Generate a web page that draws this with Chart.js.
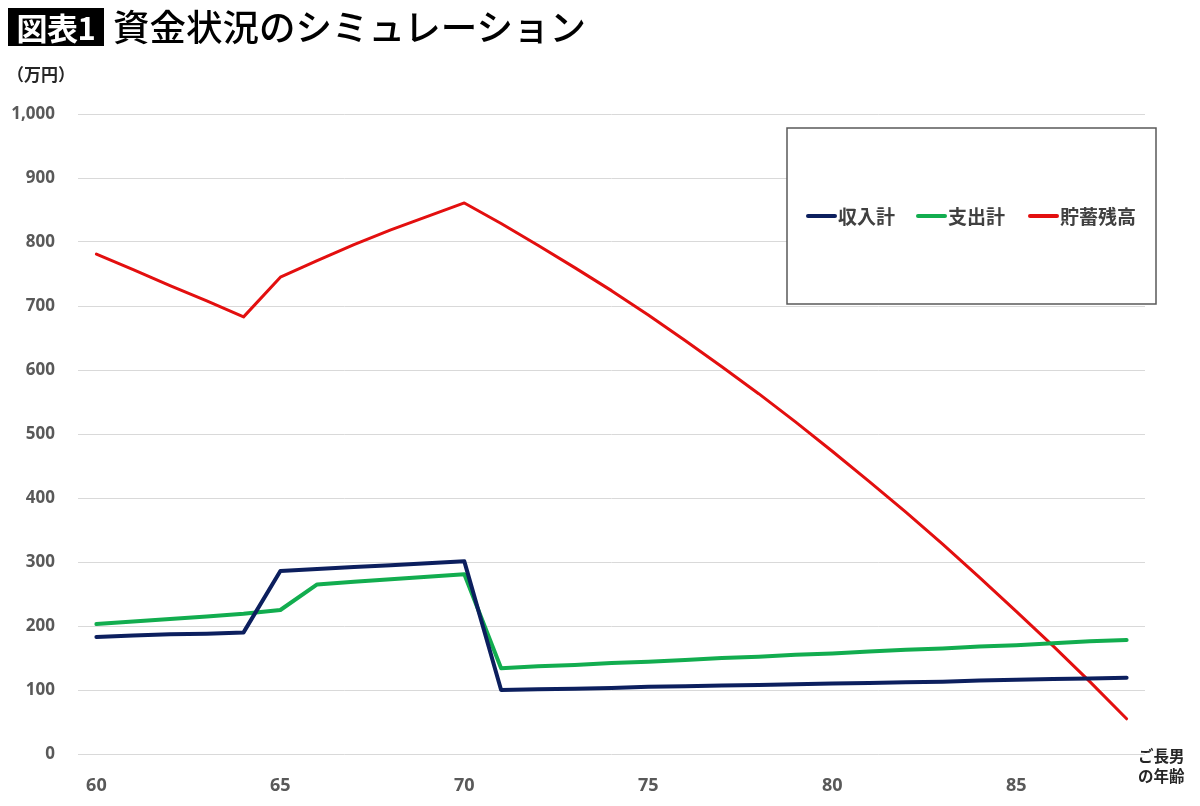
<!DOCTYPE html>
<html><head><meta charset="utf-8">
<script src="https://cdn.jsdelivr.net/npm/chart.js@4/dist/chart.umd.min.js"></script>
<style>
html,body{margin:0;padding:0;background:#fff;}
#wrap{position:relative;width:1200px;height:806px;overflow:hidden;}
#c{position:absolute;left:0;top:0;}
.t{position:absolute;font-family:"Noto Sans CJK JP",sans-serif;white-space:nowrap;}
#badge{left:8px;top:8px;width:96px;height:38px;background:#000;color:#fff;font-weight:700;font-size:31px;line-height:38px;text-align:center;letter-spacing:-0.5px;}
#title{left:113px;top:2px;font-size:36.5px;font-weight:500;color:#000;line-height:48px;}
#unit{left:7px;top:61px;font-size:17px;font-weight:700;color:#262626;line-height:26px;}
#xl{left:1138px;top:745px;font-size:15.5px;font-weight:700;color:#262626;line-height:20px;}
</style></head>
<body><div id="wrap">
<canvas id="c" width="1200" height="806"></canvas>
<div class="t" id="badge">図表1</div>
<div class="t" id="title">資金状況のシミュレーション</div>
<div class="t" id="unit">（万円）</div>
<div class="t" id="xl">ご長男<br>の年齢</div>
</div>
<script>
const ages = [60,61,62,63,64,65,66,67,68,69,70,71,72,73,74,75,76,77,78,79,80,81,82,83,84,85,86,87,88];
const income = [183,185,187,188,190,286,289,292,295,298,301,100,101,102,103,105,106,107,108,109,110,111,112,113,115,116,117,118,119];
const expense = [203,207,211,215,219,225,265,269,273,277,281,134,137,139,142,144,147,150,152,155,157,160,163,165,168,170,173,176,178];
const savings = [781,757,732,708,683,745,771,796,819,840,861,829,795,760,724,686,646,605,563,519,473,426,378,328,276,223,169,113,55];
const seriesNames = ['収入計','支出計','貯蓄残高'];
const xTickStep = 5;

const legendBox = {
  id:'legendBox',
  afterDraw(chart){
    const ctx = chart.ctx;
    const x0=787, y0=128, w=369, h=176;
    ctx.save();
    ctx.fillStyle='#fff';
    ctx.fillRect(x0,y0,w,h);
    ctx.strokeStyle='#595959';
    ctx.lineWidth=1.5;
    ctx.strokeRect(x0,y0,w,h);
    const cy = 216;
    const xs=[808,918,1030];
    ctx.font='700 19px "Noto Sans CJK JP"';
    ctx.textBaseline='middle';
    chart.data.datasets.forEach((ds,i)=>{
      ctx.strokeStyle=ds.borderColor;
      ctx.lineWidth=4;
      ctx.lineCap='round';
      ctx.beginPath();ctx.moveTo(xs[i],cy);ctx.lineTo(xs[i]+27,cy);ctx.stroke();
      ctx.fillStyle='#404040';
      ctx.fillText(ds.label,xs[i]+30,cy+1);
    });
    ctx.restore();
  }
};

new Chart(document.getElementById('c'),{
  type:'line',
  data:{
    labels:ages,
    datasets:[
      {label:seriesNames[0],data:income,borderColor:'#0c1f5e',borderWidth:4},
      {label:seriesNames[1],data:expense,borderColor:'#12ad4f',borderWidth:4},
      {label:seriesNames[2],data:savings,borderColor:'#e30f0f',borderWidth:3}
    ]
  },
  options:{
    responsive:false,
    animation:false,
    devicePixelRatio:1,
    elements:{point:{radius:0},line:{tension:0,borderJoinStyle:'round',borderCapStyle:'round'}},
    layout:{padding:{left:0,right:55,top:114,bottom:0}},
    plugins:{legend:{display:false},tooltip:{enabled:false}},
    scales:{
      x:{
        type:'category',
        offset:true,
        grid:{display:false},
        border:{display:false},
        ticks:{
          autoSkip:false,maxRotation:0,padding:13,color:'#595959',
          font:{family:'"Open Sans"',size:18,weight:'700'},
          callback:function(v){const a=ages[v];return (a-ages[0])%xTickStep===0?String(a):'';}
        },
        afterFit(s){s.height=52;}
      },
      y:{
        min:0,max:1000,
        grid:{color:'#d9d9d9',lineWidth:1,drawTicks:false},
        border:{display:false},
        ticks:{
          stepSize:100,padding:23,color:'#595959',
          font:{family:'"Open Sans"',size:17,weight:'700'},
          callback:v=>v.toLocaleString('en-US')
        },
        afterFit(s){s.width=78;}
      }
    }
  },
  plugins:[legendBox]
});
</script>
</body></html>
